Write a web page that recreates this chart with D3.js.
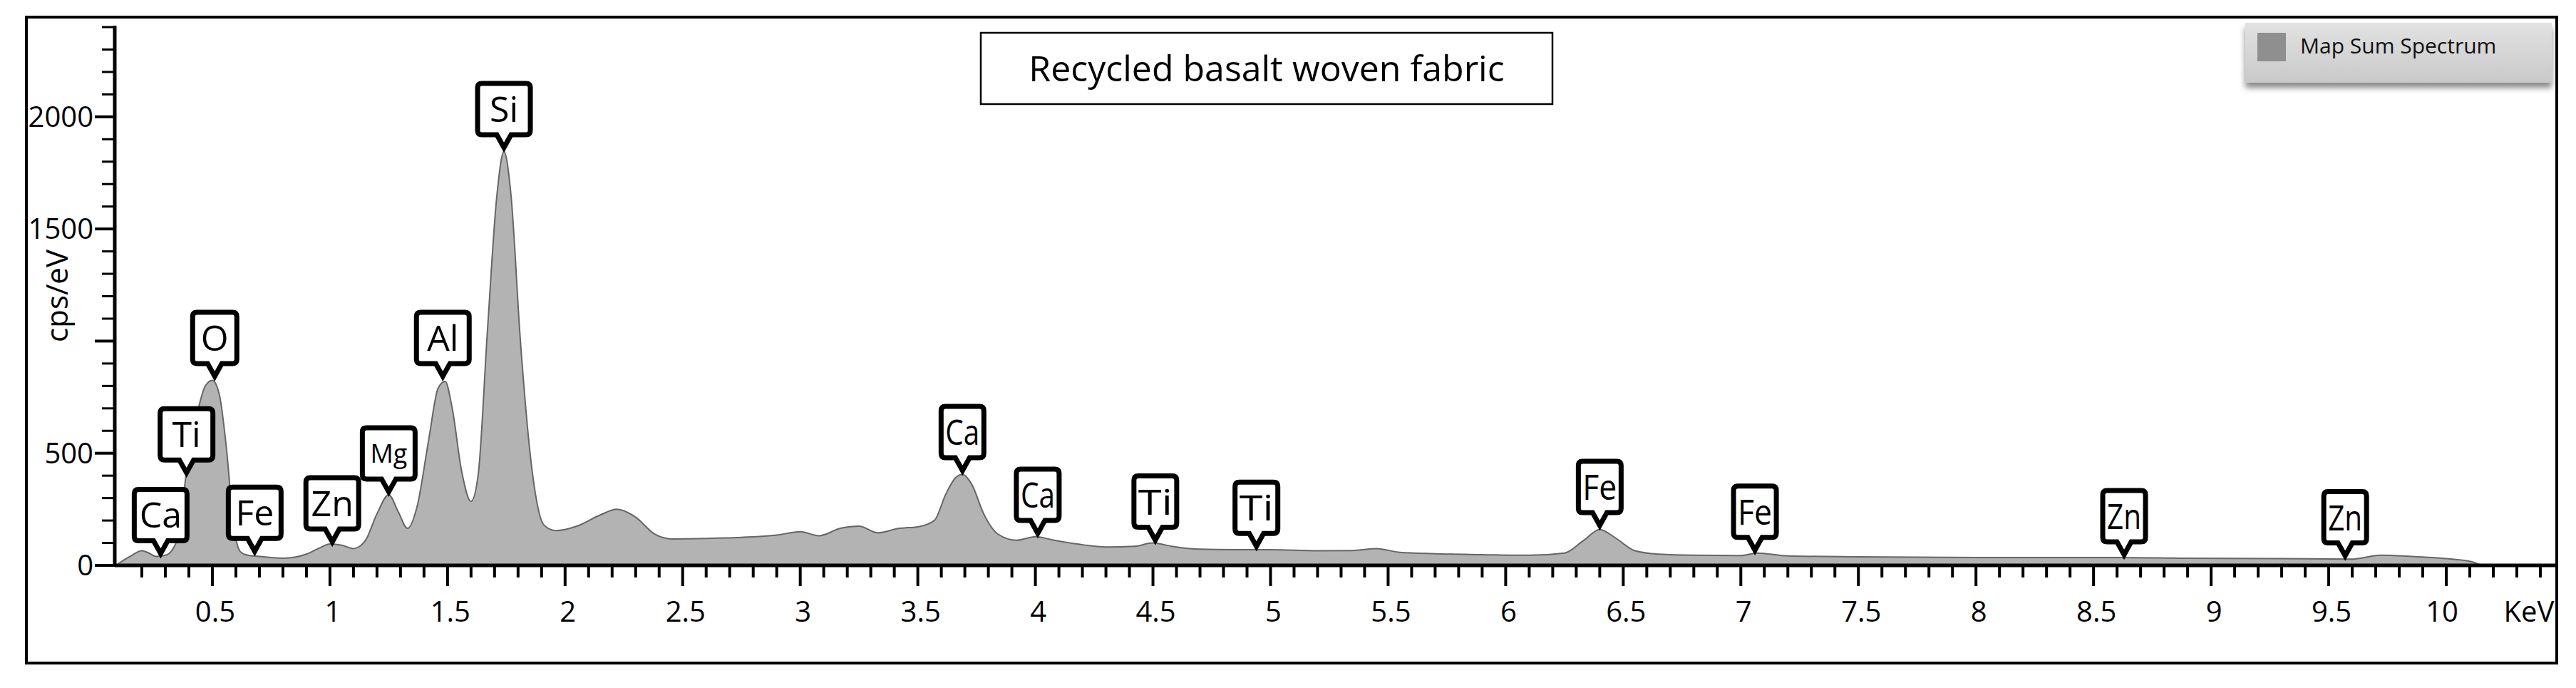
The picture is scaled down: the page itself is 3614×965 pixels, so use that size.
<!DOCTYPE html>
<html><head><meta charset="utf-8">
<script src="https://cdn.jsdelivr.net/npm/d3@7"></script>
<style>body{margin:0;background:#fff}svg{display:block}text{font-family:"Open Sans","Noto Sans",sans-serif}</style>
</head><body>
<svg id="c" width="3614" height="965"></svg>
<script>
const energy = [0.1,0.15,0.2,0.23,0.26,0.3,0.33,0.36,0.39,0.43,0.47,0.5,0.53,0.56,0.59,0.62,0.65,0.7,0.8,0.9,0.96,1.0,1.05,1.1,1.15,1.2,1.25,1.29,1.33,1.37,1.42,1.46,1.49,1.52,1.56,1.6,1.63,1.67,1.71,1.74,1.77,1.81,1.86,1.91,1.96,2.05,2.15,2.22,2.3,2.38,2.45,2.6,2.75,2.9,3.0,3.08,3.17,3.25,3.33,3.42,3.5,3.57,3.62,3.66,3.69,3.73,3.78,3.84,3.92,4.0,4.08,4.18,4.3,4.42,4.5,4.58,4.7,4.85,5.0,5.2,5.35,5.45,5.55,5.7,5.9,6.1,6.25,6.33,6.4,6.47,6.55,6.65,6.8,7.0,7.07,7.2,7.5,8.0,8.6,8.9,9.3,9.6,9.72,9.85,10.0,10.1,10.15];
const counts = [8,40,65,55,40,45,70,160,420,650,800,825,760,520,180,60,45,40,32,50,80,95,90,75,110,230,315,240,165,260,560,790,820,700,420,285,400,1050,1650,1845,1650,1000,420,180,155,175,225,250,215,140,118,120,125,135,150,132,165,175,145,165,172,200,320,390,405,360,230,140,112,128,112,95,82,85,100,85,72,70,70,65,66,75,58,52,48,45,55,110,160,120,65,50,45,44,55,42,38,35,35,32,30,28,45,40,30,18,0];
const peakLabels = ["Ca","Ti","O","Fe","Zn","Mg","Al","Si","Ca","Ca","Ti","Ti","Fe","Fe","Zn","Zn"];
const peakEnergy = [0.28,0.39,0.51,0.68,1.01,1.25,1.48,1.74,3.69,4.01,4.51,4.94,6.4,7.06,8.63,9.57];
const peakValue = [40,400,830,50,92,315,830,1850,410,130,100,72,165,55,35,30];
const xTicks = [0.5,1,1.5,2,2.5,3,3.5,4,4.5,5,5.5,6,6.5,7,7.5,8,8.5,9,9.5,10];
const yTicks = [0,500,1500,2000];

const svg = d3.select("#c");
const x0 = 161, x1 = 3587, y0 = 793;
const x = d3.scaleLinear().domain([0,10]).range([133,3432]);
const y = d3.scaleLinear().domain([0,2400]).range([y0,38]);

svg.append("rect").attr("x",37).attr("y",24).attr("width",3550).attr("height",906)
  .attr("fill","none").attr("stroke","#000").attr("stroke-width",4);

const area = d3.area().x((d,i)=>x(energy[i])).y0(y(0)).y1(d=>y(d)).curve(d3.curveMonotoneX);
const line = d3.line().x((d,i)=>x(energy[i])).y(d=>y(d)).curve(d3.curveMonotoneX);
svg.append("path").datum(counts).attr("d",area).attr("fill","#b3b3b3");
svg.append("path").datum(counts).attr("d",line).attr("fill","none").attr("stroke","#666").attr("stroke-width",2);

const gx = svg.append("g");
const minorX = d3.range(2,105).map(v=>v/10).filter(v=>Math.abs(v*2-Math.round(v*2))>1e-6 && x(v)<x1-4);
gx.selectAll(".mx").data(minorX).join("line").attr("x1",d=>x(d)).attr("x2",d=>x(d))
  .attr("y1",y0).attr("y2",y0+17).attr("stroke","#000").attr("stroke-width",4);
gx.selectAll(".Mx").data(xTicks).join("line").attr("x1",d=>x(d)).attr("x2",d=>x(d))
  .attr("y1",y0).attr("y2",y0+29).attr("stroke","#000").attr("stroke-width",4);
gx.selectAll("text").data(xTicks).join("text").attr("x",d=>x(d)+(d>=10?-6:4)).attr("y",872)
  .attr("text-anchor","middle").attr("font-size",40).text(d=>d);
svg.append("text").attr("x",3548).attr("y",872).attr("text-anchor","middle").attr("font-size",40).text("KeV");
svg.append("line").attr("x1",x0).attr("x2",x1).attr("y1",y0).attr("y2",y0).attr("stroke","#000").attr("stroke-width",5);

const gy = svg.append("g");
const minorY = d3.range(100,2401,100).filter(v=>v%500!==0);
gy.selectAll(".my").data(minorY).join("line").attr("x1",x0).attr("x2",x0-18)
  .attr("y1",d=>y(d)).attr("y2",d=>y(d)).attr("stroke","#000").attr("stroke-width",3);
gy.selectAll(".My").data([0,500,1000,1500,2000]).join("line").attr("x1",x0).attr("x2",x0-28)
  .attr("y1",d=>y(d)).attr("y2",d=>y(d)).attr("stroke","#000").attr("stroke-width",4);
gy.selectAll("text").data(yTicks).join("text").attr("x",x0-30).attr("y",d=>y(d)+14)
  .attr("text-anchor","end").attr("font-size",40).text(d=>d);
svg.append("line").attr("x1",x0).attr("x2",x0).attr("y1",36).attr("y2",y0+2).attr("stroke","#000").attr("stroke-width",5);
svg.append("text").attr("transform","translate(95,415) rotate(-90)").attr("text-anchor","middle")
  .attr("font-size",42).text("cps/eV");

peakLabels.forEach((lab,i)=>{
  const tx = x(peakEnergy[i]), ty = y(peakValue[i]) - 4;
  const small = lab==="Mg";
  const fs = small?36:50;
  const w = lab.length===1?62:(i>=8?60:74), h = 72, ph = 18;
  const bx = tx - w/2, by = ty - ph - h;
  const p = d3.path();
  p.moveTo(bx+6,by); p.lineTo(bx+w-6,by); p.quadraticCurveTo(bx+w,by,bx+w,by+6);
  p.lineTo(bx+w,by+h-6); p.quadraticCurveTo(bx+w,by+h,bx+w-6,by+h);
  p.lineTo(tx+10,by+h); p.lineTo(tx,ty); p.lineTo(tx-10,by+h);
  p.lineTo(bx+6,by+h); p.quadraticCurveTo(bx,by+h,bx,by+h-6);
  p.lineTo(bx,by+6); p.quadraticCurveTo(bx,by,bx+6,by); p.closePath();
  svg.append("path").attr("d",p.toString()).attr("fill","#fff").attr("stroke","#000").attr("stroke-width",7);
  const t = svg.append("text").attr("x",tx).attr("y",by+h/2+fs*0.36).attr("text-anchor","middle")
    .attr("font-size",fs).text(lab);
  if (i>=8 && lab.length>1) t.attr("textLength",w-12).attr("lengthAdjust","spacingAndGlyphs");
});

svg.append("rect").attr("x",1376).attr("y",46).attr("width",802).attr("height",100)
  .attr("fill","#fff").attr("stroke","#000").attr("stroke-width",2.5);
svg.append("text").attr("x",1777).attr("y",114).attr("text-anchor","middle").attr("font-size",50)
  .text("Recycled basalt woven fabric");

const defs = svg.append("defs");
const f = defs.append("filter").attr("id","sh").attr("x","-5%").attr("y","-20%").attr("width","110%").attr("height","150%");
f.append("feDropShadow").attr("dx",0).attr("dy",7).attr("stdDeviation",4).attr("flood-color","#555").attr("flood-opacity",0.7);
const lg = defs.append("linearGradient").attr("id","lgd").attr("x1",0).attr("x2",0).attr("y1",0).attr("y2",1);
lg.append("stop").attr("offset","0").attr("stop-color","#e2e2e2");
lg.append("stop").attr("offset","1").attr("stop-color","#c9c9c9");
svg.append("rect").attr("x",3150).attr("y",32).attr("width",430).attr("height",84)
  .attr("fill","url(#lgd)").attr("filter","url(#sh)");
svg.append("rect").attr("x",3167).attr("y",46).attr("width",40).attr("height",40).attr("fill","#8f8f8f");
svg.append("text").attr("x",3227).attr("y",75).attr("font-size",30).attr("fill","#111").text("Map Sum Spectrum");
</script>
</body></html>
